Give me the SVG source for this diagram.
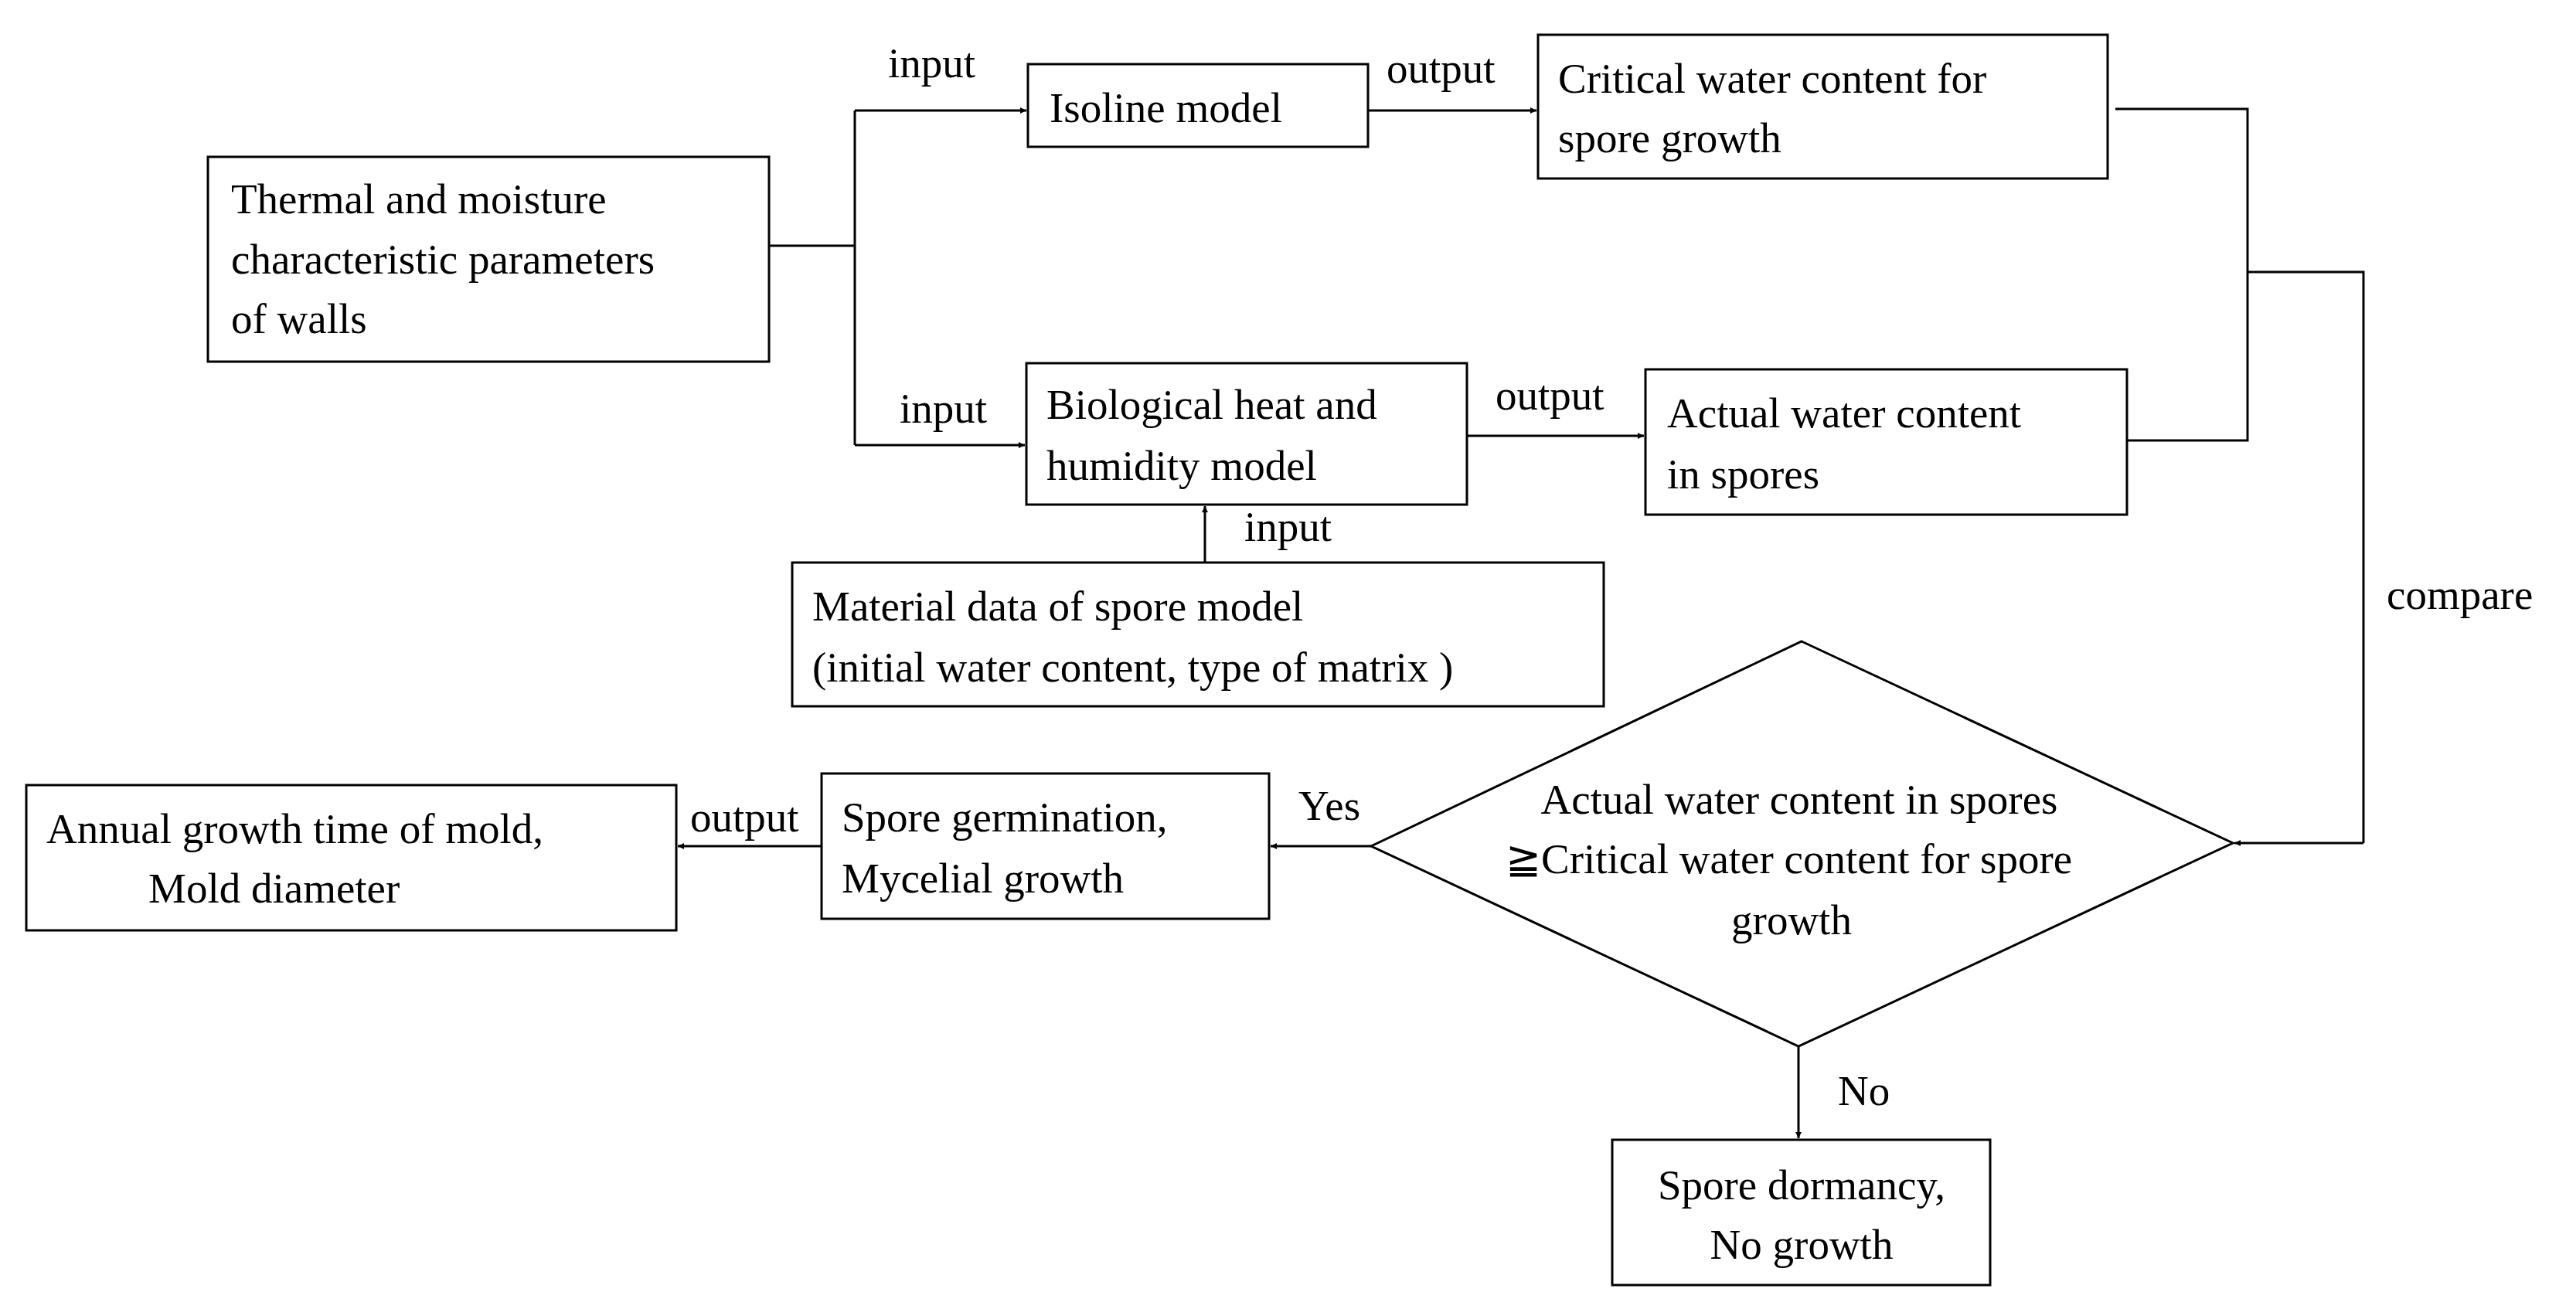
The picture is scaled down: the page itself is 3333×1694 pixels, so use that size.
<svg xmlns="http://www.w3.org/2000/svg" width="3333" height="1694" viewBox="0 0 3333 1694">
<defs>
<style>
.b{fill:#fff;stroke:#000;stroke-width:3}
.l{fill:none;stroke:#000;stroke-width:3}
text{font-family:"Liberation Serif","Times New Roman",serif;font-size:55px;fill:#000}
.m{text-anchor:middle}
</style>
<marker id="a" viewBox="0 0 10 10" refX="10" refY="5" markerWidth="8" markerHeight="8" markerUnits="userSpaceOnUse" orient="auto"><path d="M0,0L10,5L0,10z"/></marker>
</defs>
<rect width="3333" height="1694" fill="#fff"/>
<g id="connectors">
<path class="l" d="M995,318H1106M1106,143V576"/>
<path class="l" d="M1106,143H1328" marker-end="url(#a)" style="marker-end:url(#a)"/>
<path class="l" d="M1106,576H1326" marker-end="url(#a)"/>
<path class="l" d="M1770,143H1988" marker-end="url(#a)"/>
<path class="l" d="M1898,564H2127" marker-end="url(#a)"/>
<path class="l" d="M1559,728V655" marker-end="url(#a)"/>
<path class="l" d="M2737,141H2908V570H2752M2908,352H3058V1091"/>
<path class="l" d="M3058,1091H2891" marker-end="url(#a)"/>
<path class="l" d="M1774,1095H1644" marker-end="url(#a)"/>
<path class="l" d="M1063,1095H877" marker-end="url(#a)"/>
<path class="l" d="M2327,1354V1473" marker-end="url(#a)"/>
</g>
<g id="labels">
<text x="1149" y="100">input</text>
<text x="1794" y="107">output</text>
<text x="1164" y="547">input</text>
<text x="1935" y="530">output</text>
<text x="1610" y="700">input</text>
<text x="3088" y="788">compare</text>
<text x="1680" y="1061">Yes</text>
<text x="893" y="1076">output</text>
<text x="2378" y="1430">No</text>
</g>
<g id="thermal"><rect class="b" x="269" y="203" width="726" height="265"/><text x="299" y="276">Thermal and moisture</text><text x="299" y="354">characteristic parameters</text><text x="299" y="431">of walls</text></g>
<g id="isoline"><rect class="b" x="1330" y="83" width="440" height="107"/><text x="1358" y="158">Isoline model</text></g>
<g id="critical"><rect class="b" x="1990" y="45" width="737" height="186"/><text x="2016" y="120">Critical water content for</text><text x="2016" y="197">spore growth</text></g>
<g id="bio"><rect class="b" x="1328" y="470" width="570" height="183"/><text x="1354" y="542">Biological heat and</text><text x="1354" y="621">humidity model</text></g>
<g id="actual"><rect class="b" x="2129" y="478" width="623" height="188"/><text x="2157" y="553">Actual water content</text><text x="2157" y="632">in spores</text></g>
<g id="material"><rect class="b" x="1025" y="728" width="1050" height="186"/><text x="1051" y="803">Material data of spore model</text><text x="1051" y="882">(initial water content, type of matrix )</text></g>
<g id="decision"><path class="b" d="M2331,830L2889,1091L2327,1354L1774,1095Z"/><text class="m" x="2328" y="1053">Actual water content in spores</text><text x="1948" y="1130">≧Critical water content for spore</text><text class="m" x="2318" y="1209">growth</text></g>
<g id="germ"><rect class="b" x="1063" y="1001" width="579" height="188"/><text x="1089" y="1076">Spore germination,</text><text x="1089" y="1155">Mycelial growth</text></g>
<g id="annual"><rect class="b" x="34" y="1016" width="841" height="188"/><text x="60" y="1091">Annual growth time of mold,</text><text x="192" y="1168">Mold diameter</text></g>
<g id="dormancy"><rect class="b" x="2086" y="1475" width="489" height="188"/><text class="m" x="2331" y="1552">Spore dormancy,</text><text class="m" x="2331" y="1629">No growth</text></g>
</svg>
